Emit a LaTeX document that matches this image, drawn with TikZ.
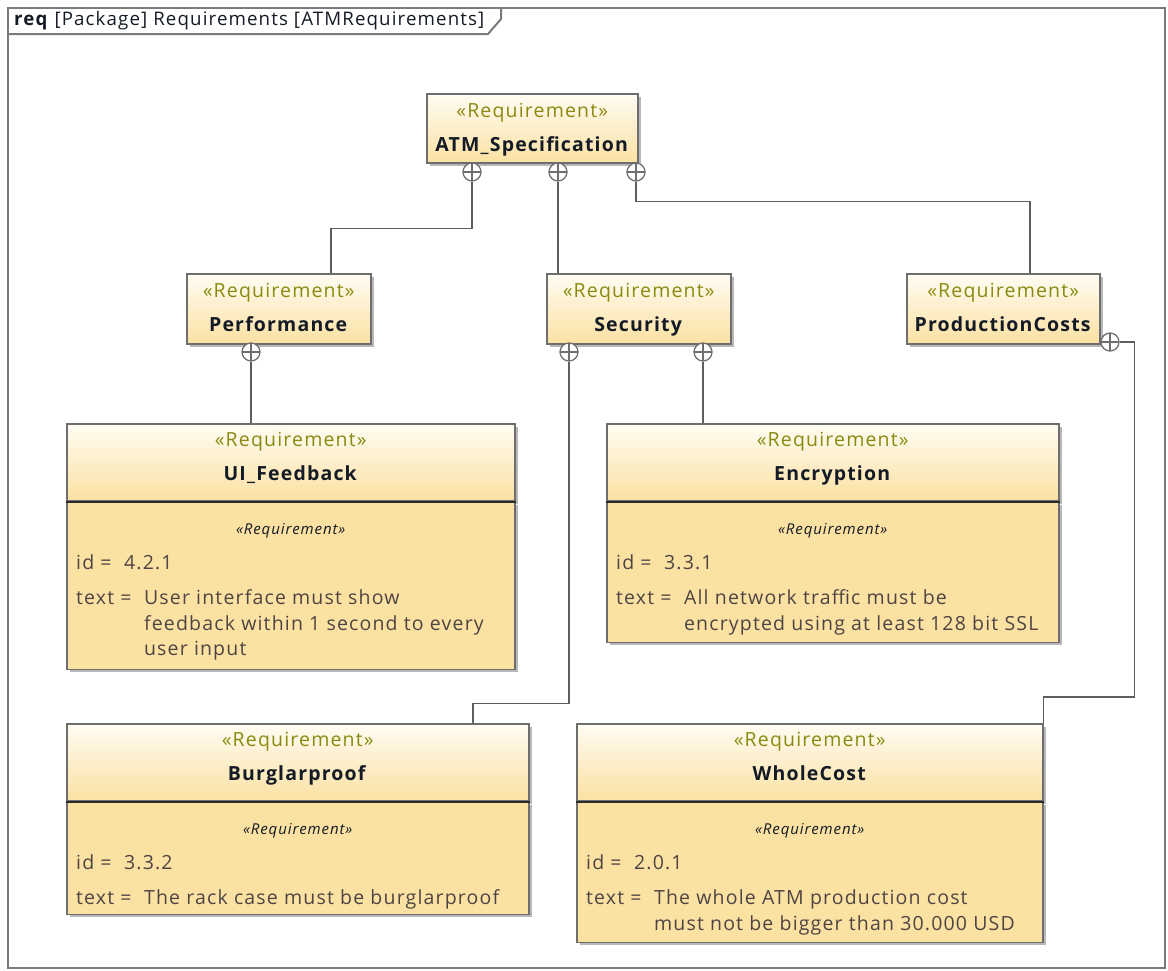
\documentclass[tikz,border=0pt]{standalone}
\usepackage{fontspec}
\setmainfont{Open Sans}[LetterSpace=6]
\usetikzlibrary{positioning,shadows}
\definecolor{ReqLine}{HTML}{6E6E6E}
\definecolor{ReqDark}{HTML}{2A2A2A}
\definecolor{ReqLink}{HTML}{5E5E5E}
\definecolor{ReqFrame}{HTML}{7A7A7A}
\definecolor{ReqTop}{HTML}{FFFCF3}
\definecolor{ReqFill}{HTML}{FBE1A2}
\definecolor{ReqStereo}{HTML}{8A8A10}
\definecolor{ReqName}{HTML}{141A26}
\definecolor{ReqText}{HTML}{4E4444}
\definecolor{ReqShadow}{HTML}{B8B8B8}
\tikzset{
  shade/.style={drop shadow={shadow xshift=3pt, shadow yshift=-3pt, fill=ReqShadow, opacity=1}},
  req/.style={shade, draw=ReqLine, line width=1.5pt, top color=ReqTop, bottom color=ReqFill,
              anchor=north west, align=center, inner sep=0pt, text=ReqName, text depth=2.5pt,
              font=\fontsize{19.5}{34}\selectfont},
  reqhead/.style={req, text depth=12pt},
  reqbody/.style={shade, draw=ReqLine, line width=1.5pt, fill=ReqFill, inner sep=0pt},
  divider/.style={draw=ReqDark, line width=2pt},
  mini/.style={inner sep=0pt, text=ReqName, font=\fontsize{15}{16}\selectfont\itshape},
  attr/.style={anchor=north west, align=left, inner sep=0pt, text=ReqText,
               font=\fontsize{19.5}{25.5}\selectfont},
  contain/.style={circle, draw=ReqLine, fill=white, line width=1.3pt, minimum size=18pt,
                  inner sep=0pt,
                  path picture={\draw[ReqLine, line width=1.3pt]
                    (path picture bounding box.north) -- (path picture bounding box.south)
                    (path picture bounding box.west) -- (path picture bounding box.east);}},
  link/.style={draw=ReqLink, line width=1.5pt},
  frame/.style={draw=ReqFrame, line width=2pt},
}
\newcommand{\stereo}{{\color{ReqStereo}«Requirement»}}
\newcommand{\hang}{\hphantom{text = \ }}

\begin{document}
\begin{tikzpicture}[x=1pt,y=-1pt]
  \useasboundingbox (0,0) rectangle (1168,970);
  % package frame
  \draw[frame] (8,8) rectangle (1165,968);
  \draw[frame] (8,34) -- (488,34) -- (501,19) -- (501,8);
  \node[anchor=west, inner sep=0pt, text=ReqName, font=\fontsize{18.7}{20}\selectfont] (title) at (14,21)
    {\textbf{req} [Package] Requirements [ATMRequirements]};

  % top level requirements
  \node[req, minimum width=211pt, minimum height=69pt] (atm) at (426,93) {\stereo\\\textbf{ATM\_Specification}};
  \node[req, minimum width=184pt, minimum height=70pt] (perf) at (186,273) {\stereo\\\textbf{Performance}};
  \node[req, minimum width=184pt, minimum height=70pt] (sec) at (546,273) {\stereo\\\textbf{Security}};
  \node[req, minimum width=193pt, minimum height=70pt] (prod) at (906,273) {\stereo\\\textbf{ProductionCosts}};

  % requirements with attributes
  \node[reqhead, minimum width=448pt, minimum height=77pt] (uif) at (66,423) {\stereo\\\textbf{UI\_Feedback}};
  \node[reqbody, minimum width=448pt, minimum height=167pt, below=0pt of uif.south] (uifB) {};
  \draw[divider] (uif.south west) -- (uif.south east);
  \node[mini, below=22pt of uifB.north] (uifM) {«Requirement»};
  \node[attr, below right=53pt and 10pt of uifB.north west] (uifA)
    {id = \ 4.2.1\\[9.5pt]text = \ User interface must show\\\hang feedback within 1 second to every\\\hang user input};

  \node[reqhead, minimum width=452pt, minimum height=77pt] (enc) at (606,423) {\stereo\\\textbf{Encryption}};
  \node[reqbody, minimum width=452pt, minimum height=140pt, below=0pt of enc.south] (encB) {};
  \draw[divider] (enc.south west) -- (enc.south east);
  \node[mini, below=22pt of encB.north] (encM) {«Requirement»};
  \node[attr, below right=53pt and 10pt of encB.north west] (encA)
    {id = \ 3.3.1\\[9.5pt]text = \ All network traffic must be\\\hang encrypted using at least 128 bit SSL};

  \node[reqhead, minimum width=462pt, minimum height=77pt] (burg) at (66,723) {\stereo\\\textbf{Burglarproof}};
  \node[reqbody, minimum width=462pt, minimum height=112pt, below=0pt of burg.south] (burgB) {};
  \draw[divider] (burg.south west) -- (burg.south east);
  \node[mini, below=22pt of burgB.north] (burgM) {«Requirement»};
  \node[attr, below right=53pt and 10pt of burgB.north west] (burgA)
    {id = \ 3.3.2\\[9.5pt]text = \ The rack case must be burglarproof};

  \node[reqhead, minimum width=466pt, minimum height=77pt] (whole) at (576,723) {\stereo\\\textbf{WholeCost}};
  \node[reqbody, minimum width=466pt, minimum height=140pt, below=0pt of whole.south] (wholeB) {};
  \draw[divider] (whole.south west) -- (whole.south east);
  \node[mini, below=22pt of wholeB.north] (wholeM) {«Requirement»};
  \node[attr, below right=53pt and 10pt of wholeB.north west] (wholeA)
    {id = \ 2.0.1\\[9.5pt]text = \ The whole ATM production cost\\\hang must not be bigger than 30.000 USD};

  % containment markers
  \node[contain] (atmP1) at (472,172) {};
  \node[contain] (atmP2) at (558,172) {};
  \node[contain] (atmP3) at (636,172) {};
  \node[contain] (perfP) at (251,352) {};
  \node[contain] (secP1) at (569,352) {};
  \node[contain] (secP2) at (703,352) {};
  \node[contain] (prodP) at (1110,342) {};

  % containment connectors
  \draw[link] (atmP1.south) -- ++(0,47) -| ([xshift=52pt]perf.north);
  \draw[link] (atmP2.south) -- (atmP2 |- sec.north);
  \draw[link] (atmP3.south) -- ++(0,20) -| ([xshift=26.5pt]prod.north);
  \draw[link] (perfP.south) -- (perfP |- uif.north);
  \draw[link] (secP1.south) -- ++(0,342) -| ([xshift=175pt]burg.north);
  \draw[link] (secP2.south) -- (secP2 |- enc.north);
  \draw[link] (prodP.east) -- ++(15,0) |- ([yshift=26pt]whole.north east) -- (whole.north east);
\end{tikzpicture}
\end{document}
